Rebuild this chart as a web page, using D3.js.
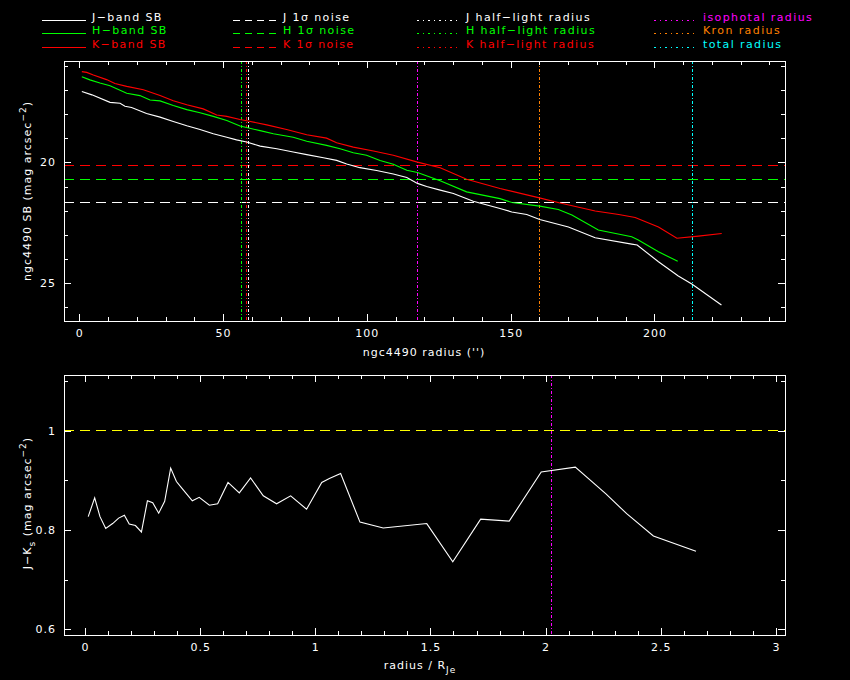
<!DOCTYPE html>
<html>
<head>
<meta charset="utf-8">
<script src="https://cdn.jsdelivr.net/npm/d3@7"></script>
<style>
  body { margin: 0; background: #000; }
  svg { display: block; }
  text { font-family: "DejaVu Sans", sans-serif; fill: #fff; letter-spacing: 1px; }
</style>
</head>
<body>
<div id="chart"></div>
<script>
// surface brightness profiles (radius in arcsec, SB in mag arcsec^-2)
var jRad = [0.9, 4.4, 10.7, 14.2, 15.9, 18.2, 23.4, 28.1, 32.7, 37.4, 42.0, 46.6, 51.3, 54.7, 58.2, 62.9, 68.7, 74.4, 79.1, 84.9, 89.5, 93.0, 97.6, 103.4, 109.2, 113.9, 117.6, 120.8, 125.5, 130.1, 137.0, 146.3, 150.4, 155.6, 160.1, 170.1, 179.4, 192.1, 194.0, 201.4, 208.3, 213.0, 223.3];
var jSB  = [17.07, 17.21, 17.52, 17.56, 17.68, 17.73, 17.98, 18.13, 18.31, 18.49, 18.64, 18.82, 18.96, 19.07, 19.16, 19.33, 19.44, 19.57, 19.68, 19.81, 19.92, 20.07, 20.22, 20.34, 20.48, 20.63, 20.87, 21.00, 21.15, 21.29, 21.61, 21.91, 22.05, 22.16, 22.36, 22.67, 23.12, 23.38, 23.42, 24.11, 24.70, 25.03, 25.90];

var hRad = [0.9, 3.7, 7.2, 10.7, 16.5, 21.1, 24.6, 28.1, 32.7, 37.4, 42.0, 46.6, 51.3, 55.9, 58.2, 62.9, 67.5, 74.4, 79.1, 86.0, 90.7, 95.3, 99.9, 104.6, 109.2, 113.9, 117.6, 125.5, 134.7, 146.3, 150.4, 160.1, 166.6, 171.3, 180.5, 192.1, 194.4, 201.4, 208.1];
var hSB  = [16.46, 16.59, 16.72, 16.83, 17.14, 17.24, 17.42, 17.46, 17.65, 17.82, 17.95, 18.10, 18.27, 18.50, 18.56, 18.69, 18.82, 18.96, 19.13, 19.30, 19.44, 19.60, 19.71, 19.92, 20.08, 20.33, 20.42, 20.76, 21.22, 21.50, 21.66, 21.81, 21.95, 22.18, 22.80, 23.08, 23.21, 23.70, 24.09];

var kRad = [0.9, 2.6, 4.9, 9.5, 12.4, 16.5, 22.3, 28.1, 32.7, 37.4, 43.1, 47.8, 51.3, 55.9, 58.2, 65.2, 72.1, 79.1, 86.0, 89.5, 95.3, 102.3, 109.2, 117.6, 125.5, 134.7, 146.3, 160.0, 167.2, 179.4, 187.6, 193.3, 201.4, 207.8, 215.3, 223.4];
var kSB  = [16.25, 16.28, 16.39, 16.58, 16.74, 16.86, 17.00, 17.24, 17.45, 17.62, 17.79, 18.04, 18.10, 18.23, 18.28, 18.45, 18.64, 18.86, 19.00, 19.19, 19.37, 19.53, 19.71, 19.99, 20.22, 20.70, 21.08, 21.47, 21.68, 22.01, 22.16, 22.28, 22.67, 23.14, 23.05, 22.94];

// 1 sigma noise levels
var noiseJ = 21.65, noiseH = 20.71, noiseK = 20.12;

// radii markers (arcsec)
var halfJ = 58.8, halfH = 56.3, halfK = 58.1;
var isoRadius = 117.6, kronRadius = 160.0, totalRadius = 213.2;

// J-Ks colour profile vs radius / R_Je
var colorX  = [0.014, 0.042, 0.065, 0.090, 0.120, 0.146, 0.171, 0.192, 0.219, 0.245, 0.271, 0.294, 0.320, 0.346, 0.372, 0.397, 0.423, 0.466, 0.496, 0.540, 0.576, 0.621, 0.670, 0.719, 0.774, 0.832, 0.893, 0.962, 1.028, 1.061, 1.110, 1.194, 1.295, 1.484, 1.597, 1.718, 1.842, 1.981, 2.129, 2.262, 2.352, 2.468, 2.653];
var colorJK = [0.827, 0.865, 0.827, 0.803, 0.813, 0.824, 0.830, 0.812, 0.809, 0.796, 0.859, 0.855, 0.834, 0.858, 0.925, 0.898, 0.883, 0.859, 0.866, 0.850, 0.853, 0.896, 0.875, 0.905, 0.869, 0.853, 0.869, 0.842, 0.896, 0.904, 0.914, 0.816, 0.804, 0.813, 0.736, 0.822, 0.818, 0.917, 0.927, 0.873, 0.833, 0.788, 0.757];
var colorRef = 1.0;
var isoScaled = 2.025;

var topXTicks = [0, 50, 100, 150, 200];
var topYTicks = [20, 25];
var botXTicks = [0, 0.5, 1, 1.5, 2, 2.5, 3];
var botYTicks = [0.6, 0.8, 1];

var WHITE = "#ffffff", GREEN = "#00ff00", RED = "#ff0000",
    MAGENTA = "#ff00ff", ORANGE = "#ff8000", CYAN = "#00ffff", YELLOW = "#ffff00";

var svg = d3.select("#chart").append("svg")
  .attr("width", 850).attr("height", 680)
  .style("background", "#000");

var dashDot = "3,2,1,2";

// ---------- legend ----------
var legend = svg.append("g").attr("class", "legend");
var rows = [20, 33, 47];
var cols = [
  { x1: 42, x2: 86, tx: 92, dash: null, items: [["J\u2212band SB", WHITE], ["H\u2212band SB", GREEN], ["K\u2212band SB", RED]] },
  { x1: 233, x2: 277, tx: 283, dash: "7,5", items: [["J 1\u03c3 noise", WHITE], ["H 1\u03c3 noise", GREEN], ["K 1\u03c3 noise", RED]] },
  { x1: 417, x2: 458, tx: 466, dash: "1.5,4", items: [["J half\u2212light radius", WHITE], ["H half\u2212light radius", GREEN], ["K half\u2212light radius", RED]] },
  { x1: 654, x2: 694, tx: 703, dash: "1.5,4", items: [["isophotal radius", MAGENTA], ["Kron radius", ORANGE], ["total radius", CYAN]] }
];
cols.forEach(function(c) {
  c.items.forEach(function(it, i) {
    legend.append("line")
      .attr("x1", c.x1).attr("x2", c.x2)
      .attr("y1", rows[i] + 0.5).attr("y2", rows[i] + 0.5)
      .attr("stroke", it[1]).attr("stroke-width", 1.3)
      .attr("stroke-dasharray", c.dash)
      .attr("shape-rendering", "crispEdges");
    legend.append("text")
      .attr("x", c.tx).attr("y", rows[i] + 1)
      .style("font-size", "11px")
      .style("letter-spacing", "1.4px")
      .style("fill", it[1])
      .text(it[0]);
  });
});

// frame with inward ticks on all four sides
function drawFrame(g, x, y, xMajor, xMinor, yMajor, yMinor, xFmt, yFmt) {
  var x0 = x.range()[0], x1 = x.range()[1];
  var yA = y.range()[0], yB = y.range()[1];
  var yTopPx = Math.min(yA, yB), yBotPx = Math.max(yA, yB);

  var specs = [
    [d3.axisBottom, x, "translate(0," + yBotPx + ")", xMajor, xMinor, xFmt],
    [d3.axisTop, x, "translate(0," + yTopPx + ")", xMajor, xMinor, null],
    [d3.axisLeft, y, "translate(" + x0 + ",0)", yMajor, yMinor, yFmt],
    [d3.axisRight, y, "translate(" + x1 + ",0)", yMajor, yMinor, null]
  ];
  specs.forEach(function(s) {
    var minor = g.append("g").attr("transform", s[2])
      .call(s[0](s[1]).tickValues(s[4]).tickSize(-4).tickFormat(""));
    minor.select(".domain").remove();
    var major = g.append("g").attr("transform", s[2])
      .call(s[0](s[1]).tickValues(s[3]).tickSize(-7).tickPadding(8).tickFormat(s[5] || ""));
    major.select(".domain").remove();
    major.selectAll("text")
      .attr("font-family", null).attr("font-size", null)
      .style("font-size", "11px").style("fill", WHITE);
  });
  g.selectAll(".tick line").attr("stroke", WHITE).attr("shape-rendering", "crispEdges");

  g.append("rect")
    .attr("x", x0).attr("y", yTopPx)
    .attr("width", x1 - x0).attr("height", yBotPx - yTopPx)
    .attr("fill", "none").attr("stroke", WHITE).attr("stroke-width", 1)
    .attr("shape-rendering", "crispEdges");
}

// ---------- top panel ----------
var xTop = d3.scaleLinear().domain([-5.3, 245.4]).range([64, 785]);
var yTop = d3.scaleLinear().domain([15.81, 26.56]).range([61, 321]);

var topG = svg.append("g").attr("class", "top-panel");

// noise lines
[[noiseK, RED], [noiseH, GREEN], [noiseJ, WHITE]].forEach(function(n) {
  topG.append("line")
    .attr("x1", xTop.range()[0]).attr("x2", xTop.range()[1])
    .attr("y1", yTop(n[0])).attr("y2", yTop(n[0]))
    .attr("stroke", n[1]).attr("stroke-dasharray", "10,6")
    .attr("shape-rendering", "crispEdges");
});

// radius markers
[[halfH, GREEN], [halfK, RED], [halfJ, WHITE], [isoRadius, MAGENTA], [kronRadius, ORANGE], [totalRadius, CYAN]].forEach(function(v) {
  topG.append("line")
    .attr("x1", xTop(v[0])).attr("x2", xTop(v[0]))
    .attr("y1", 61).attr("y2", 321)
    .attr("stroke", v[1]).attr("stroke-width", 1.3).attr("stroke-dasharray", dashDot)
    .attr("shape-rendering", "crispEdges");
});

var lineTop = d3.line().x(function(d) { return xTop(d[0]); }).y(function(d) { return yTop(d[1]); });
[[jRad, jSB, WHITE], [hRad, hSB, GREEN], [kRad, kSB, RED]].forEach(function(s) {
  topG.append("path")
    .datum(d3.zip(s[0], s[1]))
    .attr("d", lineTop)
    .attr("fill", "none").attr("stroke", s[2]).attr("stroke-width", 1.1);
});

drawFrame(topG, xTop, yTop,
  topXTicks, d3.range(0, 241, 10),
  topYTicks, d3.range(16, 27, 1),
  d3.format("d"), d3.format("d"));

topG.append("text")
  .attr("x", 424).attr("y", 356)
  .attr("text-anchor", "middle")
  .style("font-size", "11px")
  .text("ngc4490 radius ('')");

var yl1 = topG.append("text")
  .attr("transform", "translate(31,191) rotate(-90)")
  .attr("text-anchor", "middle")
  .style("font-size", "11px");
yl1.append("tspan").text("ngc4490 SB (mag arcsec");
yl1.append("tspan").attr("dy", -5).style("font-size", "9px").text("\u22122");
yl1.append("tspan").attr("dy", 5).text(")");

// ---------- bottom panel ----------
var xBot = d3.scaleLinear().domain([-0.0912, 3.0395]).range([64, 785]);
var yBot = d3.scaleLinear().domain([0.588, 1.113]).range([635, 375]);

var botG = svg.append("g").attr("class", "bottom-panel");

botG.append("line")
  .attr("x1", xBot.range()[0]).attr("x2", xBot.range()[1])
  .attr("y1", yBot(colorRef)).attr("y2", yBot(colorRef))
  .attr("stroke", YELLOW).attr("stroke-dasharray", "10,6")
  .attr("shape-rendering", "crispEdges");

botG.append("line")
  .attr("x1", xBot(isoScaled)).attr("x2", xBot(isoScaled))
  .attr("y1", 375).attr("y2", 635)
  .attr("stroke", MAGENTA).attr("stroke-width", 1.3).attr("stroke-dasharray", dashDot)
  .attr("shape-rendering", "crispEdges");

botG.append("path")
  .datum(d3.zip(colorX, colorJK))
  .attr("d", d3.line().x(function(d) { return xBot(d[0]); }).y(function(d) { return yBot(d[1]); }))
  .attr("fill", "none").attr("stroke", WHITE).attr("stroke-width", 1.1);

drawFrame(botG, xBot, yBot,
  botXTicks, d3.range(0, 31, 1).map(function(d) { return d / 10; }),
  botYTicks, d3.range(6, 12, 1).map(function(d) { return d / 10; }),
  d3.format("~g"), d3.format("~g"));

var xl2 = botG.append("text")
  .attr("x", 420).attr("y", 669)
  .attr("text-anchor", "middle")
  .style("font-size", "11px");
xl2.append("tspan").text("radius / R");
xl2.append("tspan").attr("dy", 4).style("font-size", "9px").text("Je");

var yl2 = botG.append("text")
  .attr("transform", "translate(31,503) rotate(-90)")
  .attr("text-anchor", "middle")
  .style("font-size", "11px");
yl2.append("tspan").text("J\u2212K");
yl2.append("tspan").attr("dy", 4).style("font-size", "9px").text("s");
yl2.append("tspan").attr("dy", -4).text(" (mag arcsec");
yl2.append("tspan").attr("dy", -5).style("font-size", "9px").text("\u22122");
yl2.append("tspan").attr("dy", 5).text(")");
</script>
</body>
</html>
